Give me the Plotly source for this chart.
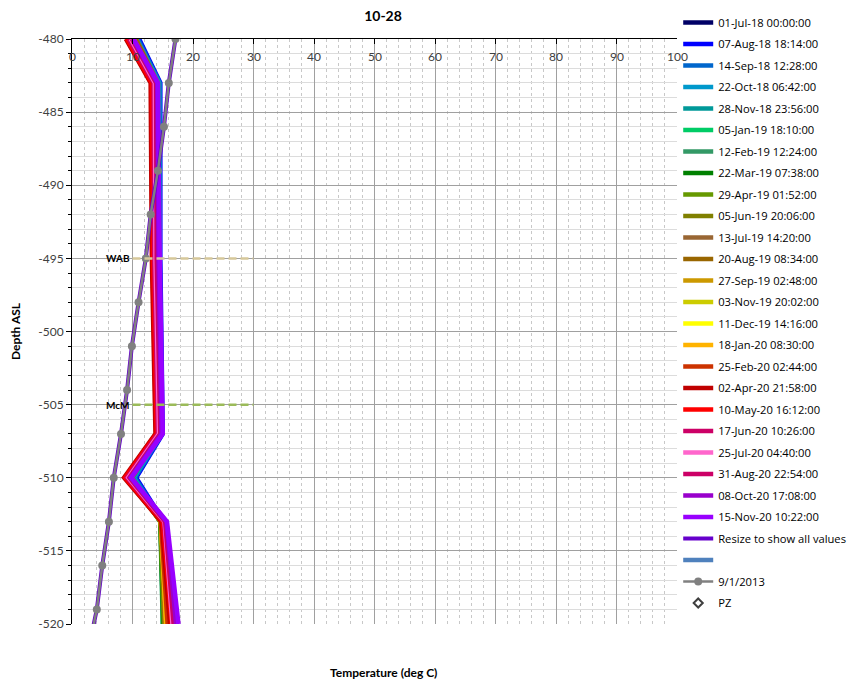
import plotly.graph_objects as go

# ---------------- data ----------------
TITLE = "10-28"
DEPTHS = [-480, -483, -495, -507, -510, -513, -520]

SERIES_NAMES = [
    "01-Jul-18 00:00:00", "07-Aug-18 18:14:00", "14-Sep-18 12:28:00",
    "22-Oct-18 06:42:00", "28-Nov-18 23:56:00", "05-Jan-19 18:10:00",
    "12-Feb-19 12:24:00", "22-Mar-19 07:38:00", "29-Apr-19 01:52:00",
    "05-Jun-19 20:06:00", "13-Jul-19 14:20:00", "20-Aug-19 08:34:00",
    "27-Sep-19 02:48:00", "03-Nov-19 20:02:00", "11-Dec-19 14:16:00",
    "18-Jan-20 08:30:00", "25-Feb-20 02:44:00", "02-Apr-20 21:58:00",
    "10-May-20 16:12:00", "17-Jun-20 10:26:00", "25-Jul-20 04:40:00",
    "31-Aug-20 22:54:00", "08-Oct-20 17:08:00", "15-Nov-20 10:22:00",
]
SERIES_COLORS = [
    "#000066", "#0000FF", "#0066CC", "#0099CC", "#009999", "#00CC66",
    "#339966", "#008000", "#669900", "#808000", "#996633", "#996600",
    "#CC9900", "#CCCC00", "#FFFF00", "#FFB300", "#CC3300", "#C00000",
    "#FF0000", "#CC0066", "#FF66CC", "#CC0066", "#9900CC", "#9900FF",
]
SERIES_TEMPS = [
    [10.8, 14.4, 14.3, 14.8, 10.2, 15.0, 15.5],
    [11.1, 14.6, 14.6, 15.0, 10.6, 15.2, 15.6],
    [10.9, 14.5, 14.5, 14.9, 10.4, 15.1, 15.5],
    [10.7, 14.4, 14.4, 14.8, 10.2, 15.0, 15.4],
    [10.5, 14.2, 14.2, 14.6, 10.0, 14.8, 15.3],
    [10.3, 14.1, 14.1, 14.5, 9.8, 14.7, 15.0],
    [10.2, 14.0, 14.0, 14.4, 9.7, 14.6, 15.0],
    [10.1, 13.9, 14.0, 14.4, 9.6, 14.6, 15.1],
    [10.0, 13.9, 13.9, 14.3, 9.5, 14.6, 15.2],
    [10.4, 14.0, 14.0, 14.4, 9.6, 14.7, 15.3],
    [10.6, 14.2, 14.2, 14.6, 9.9, 14.9, 15.4],
    [10.5, 14.1, 14.1, 14.6, 9.8, 14.8, 15.4],
    [10.2, 13.9, 14.0, 14.4, 9.6, 14.7, 15.5],
    [9.9, 13.7, 13.8, 14.3, 9.4, 14.7, 15.6],
    [9.6, 13.5, 13.6, 14.2, 9.2, 14.8, 15.9],
    [9.3, 13.3, 13.4, 14.0, 9.0, 14.7, 15.6],
    [9.0, 13.1, 13.3, 13.9, 8.8, 14.7, 15.8],
    [8.9, 13.0, 13.2, 13.8, 8.6, 14.8, 16.2],
    [9.1, 13.2, 13.4, 14.0, 8.8, 15.0, 16.5],
    [9.4, 13.5, 13.6, 14.2, 9.1, 15.2, 16.7],
    [9.7, 13.7, 13.8, 14.4, 9.3, 15.3, 16.6],
    [9.9, 13.9, 14.0, 14.6, 9.5, 15.4, 16.8],
    [10.1, 14.1, 14.3, 14.8, 9.7, 15.6, 17.2],
    [10.2, 14.2, 14.5, 15.0, 9.8, 15.7, 17.6],
]

REF_NAME = "9/1/2013"
REF_DEPTHS = [-480, -483, -486, -489, -492, -495, -498, -501, -504, -507,
              -510, -513, -516, -519, -522]
REF_TEMPS = [17.1, 16.0, 15.2, 14.2, 13.0, 12.2, 11.0, 9.9, 9.1, 8.1,
             6.9, 6.1, 5.0, 4.1, 2.6]

RESIZE_NAME = "Resize to show all values"
BLANK_NAME = " "
PZ_NAME = "PZ"

FORMATIONS = ["WAB", "McM"]
FORMATION_DEPTHS = [-495, -505]
FORMATION_T_START = [10, 10]
FORMATION_T_END = [30, 30]
FORMATION_COLORS = ["#D6C89A", "#9BBB59"]

X_TICKS = list(range(0, 101, 10))
X_TICK_TEXT = [str(v) for v in X_TICKS]
Y_TICKS = list(range(-520, -479, 5))
Y_TICK_TEXT = ["-%d" % abs(v) for v in Y_TICKS]

# ---------------- figure ----------------
# the page body adds an 8px margin, so the figure is 8px smaller
W, H = 847, 675
L, T, PW, PH = 64, 31, 605, 585
FONT = "Lato, 'Open Sans', sans-serif"
LEG_FONT = "'Open Sans', sans-serif"
fig = go.Figure()

for name, col, temps in zip(SERIES_NAMES, SERIES_COLORS, SERIES_TEMPS):
    fig.add_trace(go.Scatter(x=temps, y=DEPTHS, mode="lines", name=name,
                             line=dict(color=col, width=4.5),
                             legendgroup=name))

fig.add_trace(go.Scatter(x=REF_TEMPS, y=REF_DEPTHS, mode="lines",
                         name=RESIZE_NAME, legendgroup=RESIZE_NAME,
                         line=dict(color="#6600CC", width=4)))
fig.add_trace(go.Scatter(x=[None], y=[None], mode="lines", name=BLANK_NAME,
                         legendgroup="blank",
                         line=dict(color="#4F81BD", width=4.5)))
fig.add_trace(go.Scatter(x=REF_TEMPS, y=REF_DEPTHS, mode="lines+markers",
                         name=REF_NAME, legendgroup=REF_NAME,
                         line=dict(color="#808080", width=2.5),
                         marker=dict(color="#808080", size=8)))
fig.add_trace(go.Scatter(x=[None], y=[None], mode="markers", name=PZ_NAME,
                         legendgroup=PZ_NAME,
                         marker=dict(symbol="diamond-open", size=7,
                                     color="#404040",
                                     line=dict(width=2, color="#404040"))))

for lab, d, t0, t1, c in zip(FORMATIONS, FORMATION_DEPTHS, FORMATION_T_START,
                             FORMATION_T_END, FORMATION_COLORS):
    fig.add_trace(go.Scatter(x=[t0, t1], y=[d, d], mode="lines",
                             showlegend=False, hoverinfo="skip",
                             line=dict(color=c, width=2.5, dash="8px,4px")))
    fig.add_annotation(x=t0, y=d, text="<b>%s</b>" % lab, showarrow=False,
                       xanchor="right", yanchor="middle", xshift=-1,
                       font=dict(family=FONT, size=10, color="#000000"))

# x tick labels drawn just under the top axis line (inside the plot)
for v, t in zip(X_TICKS, X_TICK_TEXT):
    fig.add_annotation(x=v, y=1 - 17 / PH, xref="x", yref="paper",
                       text=t, showarrow=False, xanchor="center",
                       yanchor="middle",
                       font=dict(family=FONT, size=12, color="#404040"))

fig.update_layout(
    width=W, height=H,
    margin=dict(l=L, r=W - L - PW, t=T, b=H - T - PH, autoexpand=False),
    paper_bgcolor="white", plot_bgcolor="white",
    title=dict(text="<b>%s</b>" % TITLE, x=375 / W, xanchor="center",
               y=1 - 8 / H, yanchor="middle",
               font=dict(family=FONT, size=14, color="#000000")),
    showlegend=True,
    legend=dict(x=1.002, xanchor="left", y=1 + T / PH, yanchor="top",
                font=dict(family=LEG_FONT, size=11.2, color="#000000"),
                tracegroupgap=2.5, itemwidth=30, maxheight=1.0,
                bgcolor="rgba(0,0,0,0)"),
)

fig.add_annotation(text="<b>Temperature (deg C)</b>", xref="paper", yref="paper",
                   x=(375 - L) / PW, y=-(664 - (T + PH)) / PH, xanchor="center",
                   yanchor="middle", showarrow=False,
                   font=dict(family=FONT, size=12, color="#000000"))

fig.update_xaxes(
    range=[0, 100], side="top", tickvals=X_TICKS, showticklabels=False,
    ticks="inside", ticklen=5, tickcolor="#000000",
    showline=True, linecolor="#000000", linewidth=1,
    showgrid=True, gridcolor="#A0A0A0", gridwidth=1,
    zeroline=False,
    minor=dict(dtick=2, showgrid=True, gridcolor="#C8C8C8", griddash="dot",
               gridwidth=1),
)
fig.update_yaxes(
    range=[-520, -480], tickvals=Y_TICKS, ticktext=Y_TICK_TEXT,
    ticks="outside", ticklen=5, tickcolor="#000000",
    tickfont=dict(family=FONT, size=12, color="#404040"),
    showline=True, linecolor="#000000", linewidth=1,
    showgrid=True, gridcolor="#A0A0A0", gridwidth=1,
    zeroline=False,
    title=dict(text="<b>Depth ASL</b>", standoff=16,
               font=dict(family=FONT, size=12, color="#000000")),
    minor=dict(dtick=1, showgrid=True, gridcolor="#DCDCDC", gridwidth=1,
               ticks="outside", ticklen=3, tickcolor="#000000"),
)

fig.write_html("out.html")
